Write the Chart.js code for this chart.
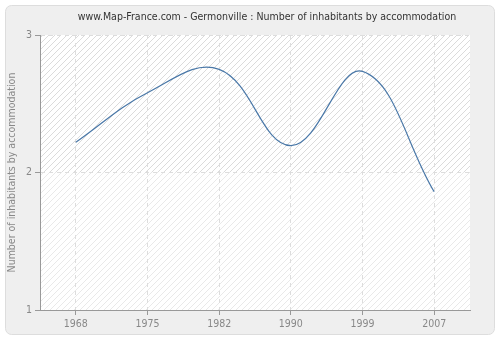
<!DOCTYPE html>
<html>
<head>
<meta charset="utf-8">
<script src="https://cdn.jsdelivr.net/npm/chart.js@4/dist/chart.umd.min.js"></script>
<style>
  html, body { margin: 0; padding: 0; background: #fff; }
  #wrap { width: 500px; height: 340px; }
</style>
</head>
<body>
<div id="wrap"><canvas id="myChart" width="500" height="340"></canvas></div>
<script>
const chartTitle = "www.Map-France.com - Germonville : Number of inhabitants by accommodation";
const yTitle = "Number of inhabitants by accommodation";
const years = ["1968", "1975", "1982", "1990", "1999", "2007"];
const inhabitants = [2.22, 2.58, 2.75, 2.195, 2.735, 1.86];
const yTicks = [1, 2, 3];

window.onload = () => {
    // diagonal hatch used inside the plot area
    function makeHatch(alpha) {
        const c = document.createElement("canvas");
        c.width = 6;
        c.height = 6;
        const g = c.getContext("2d");
        g.strokeStyle = "rgba(200,200,200," + alpha + ")";
        g.lineWidth = 1;
        g.beginPath();
        g.moveTo(0, 6);
        g.lineTo(6, 0);
        g.moveTo(-1, 1);
        g.lineTo(1, -1);
        g.moveTo(5, 7);
        g.lineTo(7, 5);
        g.stroke();
        return g.createPattern(c, "repeat");
    }

    const background = {
        id: "background",
        beforeDraw(chart) {
            const ctx = chart.ctx;
            const a = chart.chartArea;
            ctx.save();
            // outer rounded panel
            ctx.fillStyle = "#efefef";
            ctx.strokeStyle = "#dddddd";
            ctx.lineWidth = 1;
            ctx.beginPath();
            ctx.roundRect(5.5, 5.5, 489, 329, 6);
            ctx.fill();
            ctx.stroke();
            // plot area
            ctx.fillStyle = "#ffffff";
            ctx.fillRect(a.left, a.top, a.right - a.left, a.bottom - a.top);
            const mid = chart.scales.y.getPixelForValue(2);
            ctx.fillStyle = makeHatch(0.65);
            ctx.fillRect(a.left, a.top, a.right - a.left, mid - a.top);
            ctx.fillStyle = makeHatch(0.4);
            ctx.fillRect(a.left, mid, a.right - a.left, a.bottom - mid);
            // title
            ctx.fillStyle = "#333333";
            ctx.font = "10.5px 'DejaVu Sans Condensed', 'DejaVu Sans'";
            ctx.textAlign = "center";
            ctx.textBaseline = "middle";
            ctx.fillText(chartTitle, 267, 17);
            ctx.restore();
        },
    };

    const data = {
        labels: years,
        datasets: [
            {
                data: inhabitants,
                borderColor: "#4a78a8",
                borderWidth: 1.2,
                pointRadius: 0,
                tension: 0.4,
                fill: false,
            },
        ],
    };

    const tickFont = { family: "'DejaVu Sans Condensed', 'DejaVu Sans'", size: 10.5 };

    const config = {
        type: "line",
        data: data,
        options: {
            responsive: false,
            animation: false,
            layout: { padding: { top: 35, right: 30, left: 0, bottom: 0 } },
            plugins: {
                legend: { display: false },
                tooltip: { enabled: false },
            },
            scales: {
                x: {
                    offset: true,
                    afterFit: (scale) => { scale.height = 30; },
                    grid: {
                        color: "#dddddd",
                        tickColor: "#999999",
                        tickLength: 5,
                        offset: false,
                    },
                    border: { color: "#999999", dash: [4, 4] },
                    ticks: {
                        color: "#888888",
                        font: tickFont,
                        padding: 3,
                        maxRotation: 0,
                    },
                },
                y: {
                    min: 1,
                    max: 3,
                    afterFit: (scale) => { scale.width = 40; },
                    afterBuildTicks: (scale) => {
                        scale.ticks = yTicks.map((v) => ({ value: v }));
                    },
                    grid: {
                        color: "#dddddd",
                        tickColor: "#999999",
                        tickLength: 5,
                    },
                    border: { color: "#999999", dash: [4, 4] },
                    ticks: {
                        color: "#888888",
                        font: tickFont,
                        padding: 3,
                    },
                    title: {
                        display: true,
                        text: yTitle,
                        color: "#888888",
                        font: tickFont,
                        padding: { top: 6, bottom: 0 },
                    },
                },
            },
        },
        plugins: [background],
    };

    new Chart(document.getElementById("myChart"), config);
};
</script>
</body>
</html>
